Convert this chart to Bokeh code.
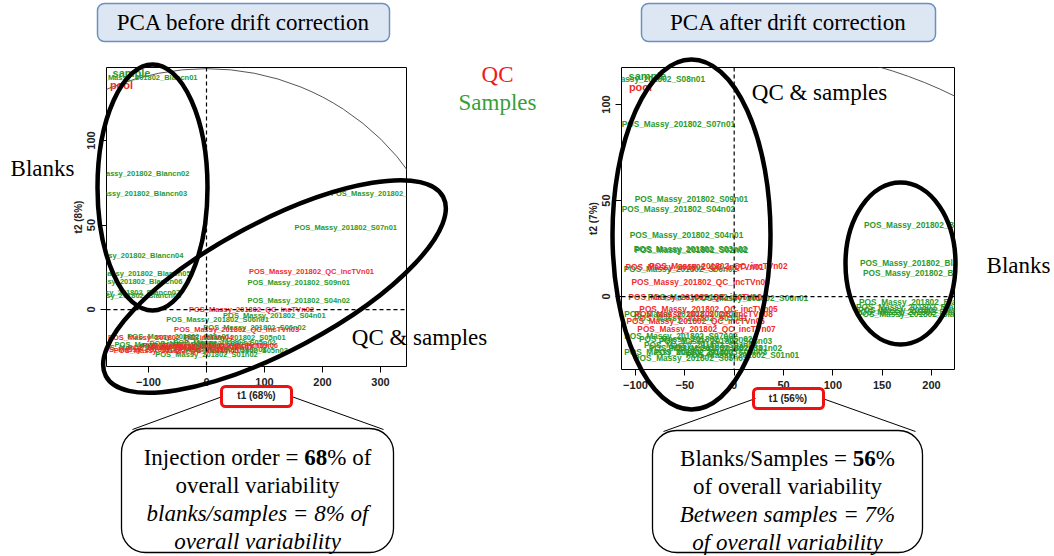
import math
from bokeh.plotting import figure
from bokeh.layouts import row, column
from bokeh.models import (ColumnDataSource, FixedTicker, Span, Label, BoxAnnotation, Range1d)
from bokeh.core.properties import value
from bokeh.embed import file_html
from bokeh.resources import INLINE

# ---------------------------------------------------------------- data
# PCA before drift correction (scores t1, t2)
before_labels = [
    "POS_Massy_201802_Blancn01", "POS_Massy_201802_Blancn02", "POS_Massy_201802_Blancn03",
    "POS_Massy_201802_Blancn04", "POS_Massy_201802_Blancn05", "POS_Massy_201802_Blancn06",
    "POS_Massy_201802_Blancn07", "POS_Massy_201802_Blancn08",
    "POS_Massy_201802_S08n01", "POS_Massy_201802_S07n01", "POS_Massy_201802_S09n01",
    "POS_Massy_201802_S04n02", "POS_Massy_201802_S04n01", "POS_Massy_201802_S06n01",
    "POS_Massy_201802_S06n02", "POS_Massy_201802_S05n01", "POS_Massy_201802_S03n01",
    "POS_Massy_201802_S05n02", "POS_Massy_201802_S02n03", "POS_Massy_201802_S03n03",
    "POS_Massy_201802_S02n01", "POS_Massy_201802_S01n02", "POS_Massy_201802_S05n03",
    "POS_Massy_201802_S01n01", "POS_Massy_201802_S03n02",
    "POS_Massy_201802_QC_incTVn01", "POS_Massy_201802_QC_incTVn02", "POS_Massy_201802_QC_incTVn03",
    "POS_Massy_201802_QC_incTVn04", "POS_Massy_201802_QC_incTVn05", "POS_Massy_201802_QC_incTVn06",
    "POS_Massy_201802_QC_incTVn07", "POS_Massy_201802_QC_incTVn08", "POS_Massy_201802_QC_incTVn09",
]
before_t1 = [-110, -124, -128, -134.5, -122, -136, -140, -138,
             303, 240, 159, 159, 117, 19, 83, 48, -48, 31, -27, 15, -70, 0, 52, -97, -10,
             181, 77.6, 52, -62, -52, 15.5, -27.6, -79, -2]
before_t2 = [137, 80.5, 68.6, 32, 21.3, 16.6, 10, 8.3,
             68.6, 48.5, 16, 5.3, -3.5, -6, -10.7, -16.6, -16, -19.5, -22, -23.7, -20.7, -26.6, -24, -22.5, -20,
             22.5, 0, -11.8, -16.6, -24.3, -21.3, -22.5, -23.7, -21.3]
before_group = ["blank"] * 8 + ["sample"] * 17 + ["qc"] * 9
before_var = [68, 8]             # % explained by t1, t2
before_hotelling = [425, 142.5]  # semi-axes of the Hotelling ellipse

# PCA after drift correction
after_labels = [
    "POS_Massy_201802_S08n01", "POS_Massy_201802_S07n01", "POS_Massy_201802_S09n01",
    "POS_Massy_201802_S04n02", "POS_Massy_201802_S04n01", "POS_Massy_201802_S03n02",
    "POS_Massy_201802_S02n02", "POS_Massy_201802_S06n02", "POS_Massy_201802_S06n01",
    "POS_Massy_201802_S05n01", "POS_Massy_201802_S02n01", "POS_Massy_201802_S03n01",
    "POS_Massy_201802_S07n02", "POS_Massy_201802_S08n03", "POS_Massy_201802_S02n03",
    "POS_Massy_201802_S01n01", "POS_Massy_201802_S05n03", "POS_Massy_201802_S03n03",
    "POS_Massy_201802_S01n02", "POS_Massy_201802_S04n03", "POS_Massy_201802_S06n03",
    "POS_Massy_201802_S05n02",
    "POS_Massy_201802_QC_incTVn02", "POS_Massy_201802_QC_incTVn01", "POS_Massy_201802_QC_incTVn03",
    "POS_Massy_201802_QC_incTVn04", "POS_Massy_201802_QC_incTVn05", "POS_Massy_201802_QC_incTVn08",
    "POS_Massy_201802_QC_incTVn06", "POS_Massy_201802_QC_incTVn07",
    "POS_Massy_201802_Blancn01", "POS_Massy_201802_Blancn02", "POS_Massy_201802_Blancn03",
    "POS_Massy_201802_Blancn04", "POS_Massy_201802_Blancn05", "POS_Massy_201802_Blancn06",
    "POS_Massy_201802_Blancn07", "POS_Massy_201802_Blancn08",
]
after_t1 = [-87, -56.5, -43.3, -56.5, -48.3, -44.3, -43.3, -54.4, 17.5, -30, -54, -44, -54, -19, -29,
            8.4, -44, -34, -9, -54, -24, -39,
            -16, -40, -34, -37, -26, -31, -39, -28,
            193, 189, 192, 188, 185, 187, 184, 186]
after_t2 = [113.5, 90, 51, 45.8, 31.8, 25, 24, 14.6, -0.5, 0, -8.9, -11, -20.8, -23, -27,
            -30.7, -31.8, -25, -27, -29, -29, -22,
            16, 15.6, 7.8, 0, -6.3, -8.9, -12.5, -16.7,
            37.5, 17.7, 12.5, -2.6, -5.2, -6.8, -7.8, -8.9]
after_group = ["sample"] * 22 + ["qc"] * 8 + ["blank"] * 8
after_var = [56, 7]
after_hotelling = [375, 130]

# ---------------------------------------------------------------- style / layout
GREEN = "#2b9a2b"
RED = "#f22c2c"
GROUP_COLOR = {"blank": GREEN, "sample": GREEN, "qc": RED}
SERIF = "Liberation Serif"
SANS = "Liberation Sans"
W, H = 1054, 556
FRAME_TOP = 67


def no_align(p):
    if "frame_align" in p.properties():
        p.frame_align = False
        return True
    return False


def make_panel(width, frame_left, frame_w, frame_h, xr, yr, xticks, yticks, xlabel, ylabel):
    p = figure(width=width, height=H, x_range=Range1d(*xr), y_range=Range1d(*yr),
               toolbar_location=None, output_backend="svg", tools="")
    p.min_border_left = frame_left
    p.min_border_right = width - frame_left - frame_w
    p.min_border_top = FRAME_TOP
    p.min_border_bottom = H - FRAME_TOP - frame_h
    p.grid.visible = False
    p.outline_line_color = "black"
    p.outline_line_width = 1
    p.background_fill_color = "white"
    p.border_fill_color = "white"
    for ax in (p.xaxis[0], p.yaxis[0]):
        ax.axis_line_color = None
        ax.major_tick_out = 6
        ax.major_tick_in = 0
        ax.minor_tick_line_color = None
        ax.major_tick_line_color = "black"
        ax.major_label_text_font = SANS
        ax.major_label_text_font_style = "bold"
        ax.major_label_text_font_size = "11px"
        ax.major_label_text_color = "#222222"
        ax.axis_label_text_font = SANS
        ax.axis_label_text_font_style = "bold"
        ax.axis_label_text_font_size = "10px"
        ax.axis_label_text_color = "#222222"
    p.xaxis.major_label_standoff = 5
    p.xaxis.axis_label_standoff = 1
    p.yaxis.major_label_standoff = 5
    p.yaxis.axis_label_standoff = 1
    p.xaxis.ticker = FixedTicker(ticks=xticks)
    p.yaxis.ticker = FixedTicker(ticks=yticks)
    p.yaxis.major_label_orientation = "vertical"
    p.xaxis.axis_label = xlabel
    p.yaxis.axis_label = ylabel
    p.add_layout(Span(location=0, dimension="height", line_color="black",
                      line_width=1.2, line_dash="4 3"))
    p.add_layout(Span(location=0, dimension="width", line_color="black",
                      line_width=1.2, line_dash="4 3"))
    no_align(p)
    return p


def converter(fig_offset, frame_left, frame_w, frame_h, xr, yr):
    def cx(rx):
        return xr[0] + ((rx - fig_offset) - frame_left) / frame_w * (xr[1] - xr[0])

    def cy(ry):
        return yr[1] - (ry - FRAME_TOP) / frame_h * (yr[1] - yr[0])
    return cx, cy


# ---------------------------------------------------------------- left panel
LW, LFL, LFW, LFH = 545, 106, 300, 299
LXR, LYR = (-172.4, 344.8), (-33.7, 143.2)
p1 = make_panel(LW, LFL, LFW, LFH, LXR, LYR, [-100, 0, 100, 200, 300], [0, 50, 100],
                f"t1 ({before_var[0]}%)", f"t2 ({before_var[1]}%)")
src1 = ColumnDataSource(dict(x=before_t1, y=before_t2, text=before_labels,
                             color=[GROUP_COLOR[g] for g in before_group]))
p1.ellipse(x=[0], y=[0], width=[2 * before_hotelling[0]], height=[2 * before_hotelling[1]],
           fill_color=None, line_color="#555555", line_width=1)
p1.text(x="x", y="y", text="text", source=src1, text_color="color",
        text_font=value(SANS), text_font_style="bold", text_font_size="7.5px",
        text_align="center", text_baseline="middle")
cx1, cy1 = converter(0, LFL, LFW, LFH, LXR, LYR)
p1.add_layout(Label(x=cx1(131), y=cy1(72), text="sample", text_font=SANS, text_font_style="bold",
                    text_font_size="11px", text_color=GREEN, text_align="center", text_baseline="middle"))
p1.add_layout(Label(x=cx1(121), y=cy1(84), text="pool", text_font=SANS, text_font_style="bold",
                    text_font_size="11px", text_color=RED, text_align="center", text_baseline="middle"))

# ---------------------------------------------------------------- right panel
RW, RFL, RFW, RFH = 509, 76, 333, 302
RXR, RYR = (-114.2, 223.3), (-38.0, 119.3)
p2 = make_panel(RW, RFL, RFW, RFH, RXR, RYR, [-100, -50, 0, 50, 100, 150, 200], [0, 50, 100],
                f"t1 ({after_var[0]}%)", f"t2 ({after_var[1]}%)")
src2 = ColumnDataSource(dict(x=after_t1, y=after_t2, text=after_labels,
                             color=[GROUP_COLOR[g] for g in after_group]))
p2.ellipse(x=[0], y=[0], width=[2 * after_hotelling[0]], height=[2 * after_hotelling[1]],
           fill_color=None, line_color="#555555", line_width=1)
p2.text(x="x", y="y", text="text", source=src2, text_color="color",
        text_font=value(SANS), text_font_style="bold", text_font_size="8.3px",
        text_align="center", text_baseline="middle")
cx2, cy2 = converter(LW, RFL, RFW, RFH, RXR, RYR)
p2.add_layout(Label(x=cx2(647), y=cy2(75), text="sample", text_font=SANS, text_font_style="bold",
                    text_font_size="11px", text_color=GREEN, text_align="center", text_baseline="middle"))
p2.add_layout(Label(x=cx2(640), y=cy2(86), text="pool", text_font=SANS, text_font_style="bold",
                    text_font_size="11px", text_color=RED, text_align="center", text_baseline="middle"))

# ---------------------------------------------------------------- overlay with the annotations
deco = figure(width=W, height=H, x_range=Range1d(0, W), y_range=Range1d(0, H),
              toolbar_location=None, output_backend="svg", tools="", title=None,
              x_axis_location=None, y_axis_location=None, min_border=0)
deco.grid.visible = False
deco.outline_line_color = None
deco.background_fill_alpha = 0
deco.border_fill_alpha = 0


def Y(ry):
    return H - ry


def box(l, t, r, b, fill, line, lw, radius):
    deco.add_layout(BoxAnnotation(left=l, right=r, top=Y(t), bottom=Y(b),
                                  fill_color=fill if fill else "white", fill_alpha=1 if fill else 0,
                                  line_color=line, line_width=lw, line_alpha=1, border_radius=radius))


def txt(x, y, s, size="23px", color="black", align="center", baseline="middle", style="normal"):
    deco.add_layout(Label(x=x, y=Y(y), text=s, text_font=SERIF, text_font_size=size,
                          text_color=color, text_align=align, text_baseline=baseline,
                          text_font_style=style))


def ring(x, y, a, b, ang):
    deco.ellipse(x=[x], y=[Y(y)], width=[2 * a], height=[2 * b], angle=[math.radians(ang)],
                 fill_alpha=0, line_color="black", line_width=4.5)


def seg(x0, y0, x1, y1):
    deco.segment(x0=[x0], y0=[Y(y0)], x1=[x1], y1=[Y(y1)], line_color="black", line_width=1)


fs = 23
# left side
box(97, 3, 389, 41, "#dde7f4", "#6d8fbf", 1.5, 7)
txt(243, 22, "PCA before drift correction")
ring(152, 187, 55, 123, 0)
ring(274, 286, 191, 64.5, 28)
txt(42, 168, "Blanks")
txt(497, 74, "QC", color="#ee1c1c")
txt(497, 102, "Samples", color="#36a036")
txt(419, 337, "QC & samples")
box(221, 386, 291, 406, None, "#ee1111", 3, 4)
seg(222, 396, 132, 429)
seg(291, 396, 383, 429)
box(121, 428, 393, 552, "white", "black", 1.3, 24)
x0 = 257 - (6.979 + 1.0 + 1.916) * fs / 2
txt(x0, 457, "Injection order = ", align="left", baseline="alphabetic")
txt(x0 + 6.979 * fs, 457, "68", align="left", baseline="alphabetic", style="bold")
txt(x0 + 7.979 * fs, 457, "% of", align="left", baseline="alphabetic")
txt(257, 485, "overall variability", baseline="alphabetic")
txt(257, 513, "blanks/samples = 8% of", baseline="alphabetic", style="italic")
txt(257, 541, "overall variability", baseline="alphabetic", style="italic")

# right side
box(641, 3, 935, 41, "#dde7f4", "#6d8fbf", 1.5, 7)
txt(788, 22, "PCA after drift correction")
ring(691, 234, 79, 175, 0)
ring(900, 263, 55, 81, 0)
txt(819, 92, "QC & samples")
txt(1018, 265, "Blanks")
box(753, 388, 823, 408, None, "#ee1111", 3, 4)
seg(755, 398, 663, 431)
seg(822, 398, 915, 431)
box(652, 430, 922, 552, "white", "black", 1.3, 24)
x1 = 787 - (7.509 + 1.0 + 0.833) * fs / 2
txt(x1, 458, "Blanks/Samples = ", align="left", baseline="alphabetic")
txt(x1 + 7.509 * fs, 458, "56", align="left", baseline="alphabetic", style="bold")
txt(x1 + 8.509 * fs, 458, "%", align="left", baseline="alphabetic")
txt(787, 486, "of overall variability", baseline="alphabetic")
txt(787, 514, "Between samples = 7%", baseline="alphabetic", style="italic")
txt(787, 542, "of overall variability", baseline="alphabetic", style="italic")

if no_align(deco):
    deco.margin = (0, 0, 0, -W)
    layout = row(p1, p2, deco)
else:
    holder = column(deco)
    holder.margin = (0, 0, 0, -W)
    layout = row(p1, p2, holder)
open("out.html", "w").write(file_html(layout, INLINE))
